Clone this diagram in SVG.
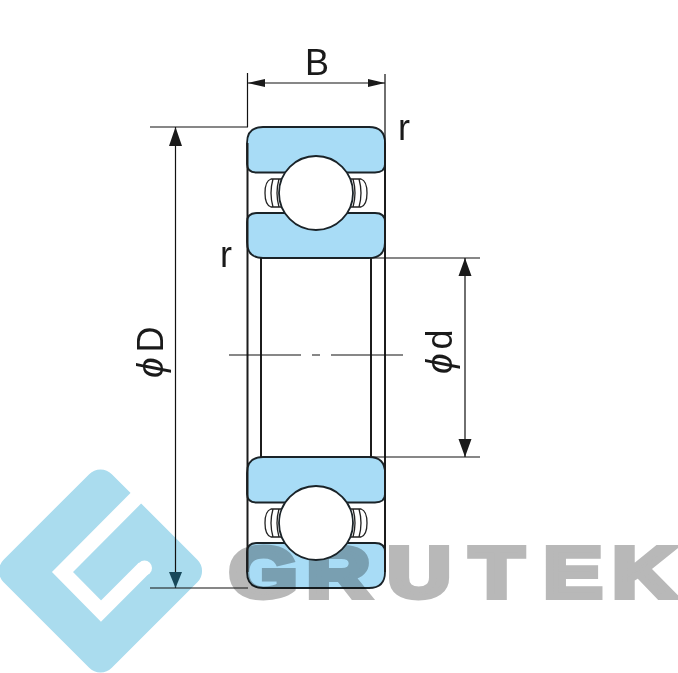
<svg xmlns="http://www.w3.org/2000/svg" width="678" height="673" viewBox="0 0 678 673">
<defs>
<style>
.ring{fill:#a8dcf6;stroke:#1a2328;stroke-width:1.8;mix-blend-mode:multiply}
.ball{fill:#fff;stroke:#1a2328;stroke-width:1.8}
.cage{fill:#fff;stroke:#222;stroke-width:1.3}
.edge{fill:none;stroke:#1c1c1c;stroke-width:2}
.dim{fill:none;stroke:#111;stroke-width:1.2}
.head{fill:#1a1a1a}
.lbl{font-family:"Liberation Sans",Arial,sans-serif;font-size:36px;fill:#1a1a1a}
.phi{font-style:italic;font-size:37px}
</style>
<g id="bearing-half">
<path class="cage" d="M282 179H271Q265 181 265 193Q265 205 271 207H282ZM273 179Q269 193 273 207M279 179Q275 193 279 207"/>
<path class="cage" d="M350 179H361Q367 181 367 193Q367 205 361 207H350ZM359 179Q363 193 359 207M353 179Q357 193 353 207"/>
<path class="ring" d="M263 127H369Q385 127 385 143V164Q385 172.500 375 172.500H257Q247 172.500 247 164V143Q247 127 263 127Z"/>
<path class="ring" d="M257 213H375Q385 213 385 222V242Q385 258 369 258H263Q247 258 247 242V222Q247 213 257 213Z"/>
<circle class="ball" cx="316" cy="193" r="37"/>
</g>
</defs>
<rect width="678" height="673" fill="#fff"/>
<g id="watermark">
<rect x="24" y="494.500" width="153" height="153" rx="16" fill="#aadcee" transform="rotate(45 100.500 571)"/>
<path d="M146 488L62.500 572L101 611L144 568" fill="none" stroke="#fff" stroke-width="15"/>
<circle cx="144.500" cy="568" r="7.500" fill="#fff"/>
<text transform="scale(1.25 1)" y="597" font-family="'Liberation Sans',Arial,sans-serif" font-weight="700" font-size="70" fill="#b8b8b8" stroke="#b8b8b8" stroke-width="6" x="183.500 245.400 310 376 435 490">GRUTEK</text>
</g>
<g id="bearing-top"><use href="#bearing-half"/></g>
<g id="bearing-bottom"><use href="#bearing-half" y="330"/></g>
<g id="connectors">
<path class="edge" d="M247.500 143V572M385 143V572M261 258V457M371 258V457"/>
<path class="dim" d="M247.500 73V127M385 74V143M248 83H385M150 127H248M150 588H248M372 258H480M372 457H480M175.500 127V588M465 258V457M229 355H301M312 355H320M331 355H403"/>
<path class="head" d="M248 83L265 79V87ZM385 83L368 79V87ZM175.500 127L169 146H182ZM465 258L458.500 276H471.500ZM465 457L458.500 439H471.500Z"/>
<path d="M175.500 588L169 572H182Z" fill="#17485a"/>
</g>
<g id="labels">
<text class="lbl" x="317" y="75" text-anchor="middle">B</text>
<text class="lbl" x="398" y="140">r</text>
<text class="lbl" x="220" y="267">r</text>
<text class="lbl" transform="translate(163 378) rotate(-90)"><tspan class="phi">ϕ</tspan><tspan dx="5">D</tspan></text>
<text class="lbl" transform="translate(452 374) rotate(-90)"><tspan class="phi">ϕ</tspan><tspan dx="4">d</tspan></text>
</g>
</svg>
